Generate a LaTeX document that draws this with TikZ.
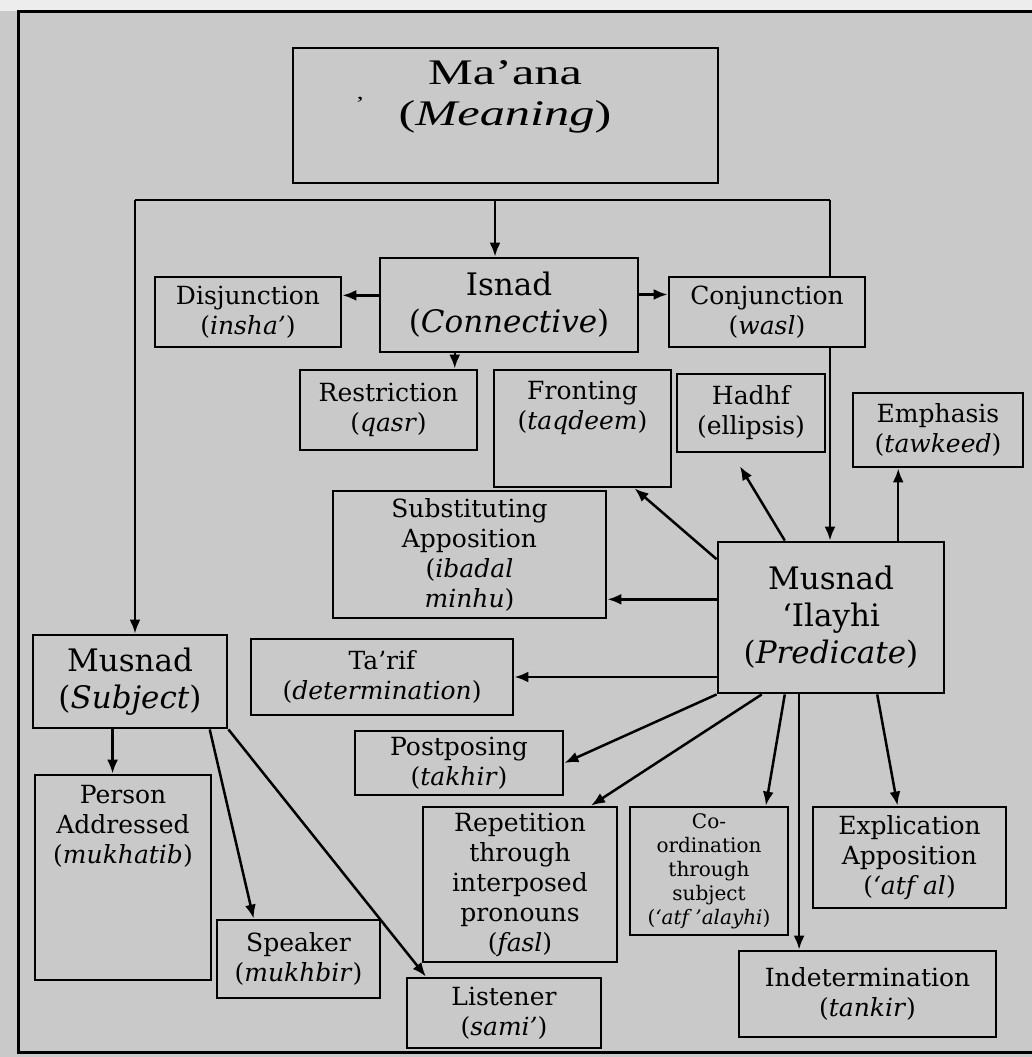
\documentclass[tikz,border=0pt]{standalone}
\usepackage{fontspec}
\setmainfont{DejaVu Serif}
\newfontfamily\titlefont[FakeStretch=1.4, Ligatures=TeX]{Liberation Serif}
\usetikzlibrary{arrows.meta}
\definecolor{bggray}{RGB}{201,201,201}
\tikzstyle{box}=[rectangle, draw=black, line width=2.8pt, fill=bggray, inner sep=0pt,
                 align=center, font=\fontsize{25}{30}\selectfont]
\tikzstyle{bigbox}=[box, font=\fontsize{31}{37}\selectfont]
\tikzstyle{txt}=[align=center, inner sep=0pt, font=\fontsize{25}{30}\selectfont]
\tikzstyle{arr}=[line width=2.5pt, -{Latex[length=14pt, width=11pt]}]

\begin{document}
\begin{tikzpicture}[x=1pt, y=-1pt]
    \useasboundingbox (0,0) rectangle (1032,1057);
    \fill[bggray] (0,0) rectangle (1032,1057);
    \fill[black!7] (0,0) rectangle (1032,11);
    \draw[line width=3pt] (1032,12) -- (18,12) -- (18,1052) -- (1032,1052);
    % top
    \node[box, minimum width=425pt, minimum height=135pt] (maana) at (505.5,115.5) {};
    \node[txt, font=\titlefont\fontsize{36}{41}\selectfont] (maana-t) at (505,97)
      {Ma'ana\\(\textit{Meaning})};
    \node[txt, font=\titlefont\fontsize{20}{20}\selectfont] (maana-tick) at (360,104) {'};
    \node[bigbox, minimum width=258pt, minimum height=94pt] (isnad) at (509,305)
      {Isnad\\(\textit{Connective})};
    \node[box, minimum width=186pt, minimum height=70pt] (disj) at (248,312)
      {Disjunction\\(\textit{insha'})};
    \node[box, minimum width=196pt, minimum height=70pt] (conj) at (767,312)
      {Conjunction\\(\textit{wasl})};
    \node[box, minimum width=177pt, minimum height=80pt] (restr) at (388.5,410)
      {Restriction\\(\textit{qasr})};
    \node[box, minimum width=177pt, minimum height=117pt] (front) at (582.5,428.5) {};
    \node[txt] (front-t) at (582.5,408) {Fronting\\(\textit{taqdeem})};
    \node[box, minimum width=148pt, minimum height=78pt] (hadhf) at (751,413)
      {Hadhf\\(ellipsis)};
    \node[box, minimum width=170pt, minimum height=74pt] (emph) at (938,430)
      {Emphasis\\(\textit{tawkeed})};
    \node[box, minimum width=273pt, minimum height=127pt] (subst) at (469.5,554.5)
      {Substituting\\Apposition\\(\textit{ibadal}\\\textit{minhu})};
    % predicate side
    \node[bigbox, minimum width=226pt, minimum height=151pt] (mi) at (831,617.5)
      {Musnad\\`Ilayhi\\(\textit{Predicate})};
    \node[box, minimum width=262pt, minimum height=76pt] (tarif) at (382,677)
      {Ta'rif\\(\textit{determination})};
    \node[box, minimum width=208pt, minimum height=64pt] (post) at (459,763)
      {Postposing\\(\textit{takhir})};
    \node[box, minimum width=194pt, minimum height=155pt] (rep) at (520,884.5)
      {Repetition\\through\\interposed\\pronouns\\(\textit{fasl})};
    \node[box, minimum width=158pt, minimum height=128pt, font=\fontsize{20}{24}\selectfont]
      (coord) at (709,871) {Co-\\ordination\\through\\subject\\(\textit{`atf 'alayhi})};
    \node[box, minimum width=193pt, minimum height=101pt] (expl) at (909.5,857.5)
      {Explication\\Apposition\\(\textit{`atf al})};
    \node[box, minimum width=257pt, minimum height=86pt] (indet) at (867.5,994)
      {Indetermination\\(\textit{tankir})};
    % subject side
    \node[bigbox, minimum width=194pt, minimum height=93pt] (subj) at (130,681.5)
      {Musnad\\(\textit{Subject})};
    \node[box, minimum width=176pt, minimum height=205pt] (person) at (123,877.5) {};
    \node[txt] (person-t) at (123,826) {Person\\Addressed\\(\textit{mukhatib})};
    \node[box, minimum width=163pt, minimum height=78pt] (speaker) at (298.5,959)
      {Speaker\\(\textit{mukhbir})};
    \node[box, minimum width=194pt, minimum height=70pt] (listener) at (504,1013)
      {Listener\\(\textit{sami'})};
    % connectors
    \coordinate (busL) at (135,200);
    \coordinate (busM) at (495,200);
    \coordinate (busR) at (830,200);
    \draw[line width=2.5pt] (busL) -- (busR);
    \draw[line width=2.5pt] (busR) -- (busR |- conj.north);
    \draw[arr] (busL) -- (busL |- subj.north);
    \draw[arr] (busM) -- (busM |- isnad.north);
    \draw[arr] (busR |- conj.south) -- (busR |- mi.north);
    \draw[arr] (isnad.west |- disj.10) -- (disj.10);
    \draw[arr] (isnad.east |- conj.170) -- (conj.170);
    \draw[arr] (isnad.south -| restr.32) -- (restr.32);
    \draw[arr, shorten >=15pt] (mi.121) -- (hadhf.-115);
    \draw[arr] (emph.-136 |- mi.north) -- (emph.-136);
    \draw[arr] (mi.west |- subst.-18) -- (subst.-18);
    \draw[arr] (mi.west |- tarif.east) -- (tarif.east);
    \draw[arr] (mi.south -| indet.147) -- (indet.147);
    \draw[arr] (subj.-110) -- (subj.-110 |- person.north);
    \foreach \from/\to in {mi.153/front.-49, mi.south west/post.east, mi.-132/rep.48,
          mi.-121/coord.49, mi.-59/expl.103, subj.-31/speaker.138,
          subj.south east/listener.155}
      \draw[arr] (\from) -- (\to);
\end{tikzpicture}
\end{document}
